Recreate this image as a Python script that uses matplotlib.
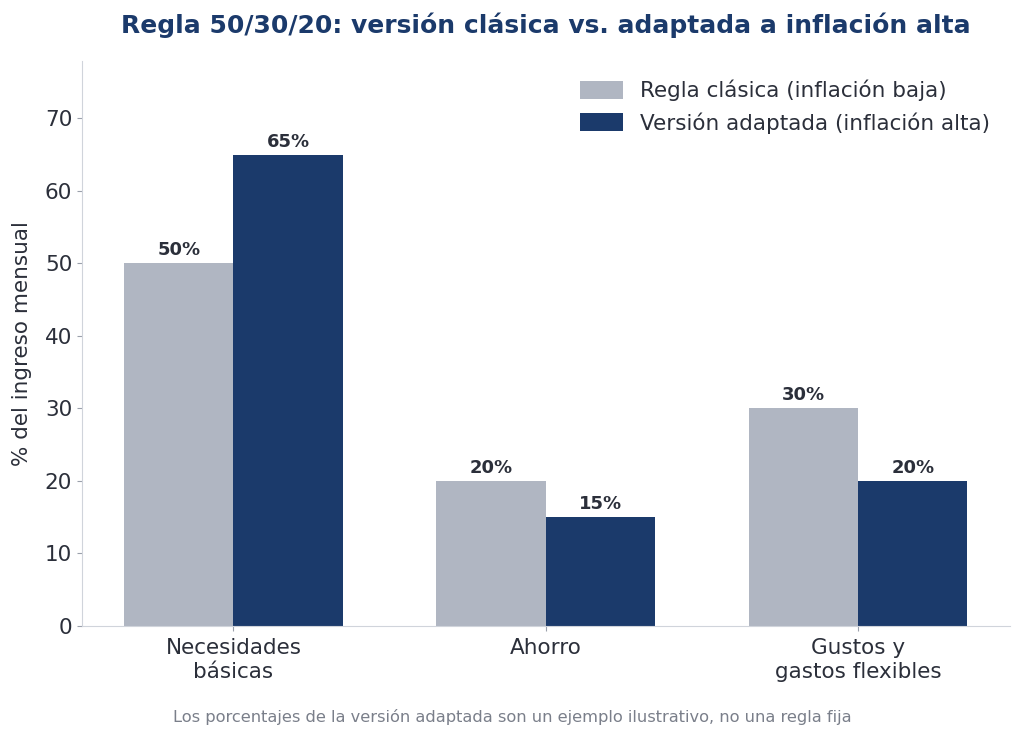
import matplotlib.pyplot as plt
import numpy as np

# datos
categorias = ["Necesidades\nbásicas", "Ahorro", "Gustos y\ngastos flexibles"]
clasica = [50, 20, 30]
adaptada = [65, 15, 20]
etiquetas_series = ["Regla clásica (inflación baja)", "Versión adaptada (inflación alta)"]

gris = "#b0b6c2"
azul = "#1b3a6b"
texto = "#2b2f3a"

fig, ax = plt.subplots(figsize=(10.24, 7.38), dpi=100)
fig.subplots_adjust(left=0.08, right=0.986, top=0.918, bottom=0.152)

x = np.arange(len(categorias))
w = 0.35
b1 = ax.bar(x - w / 2, clasica, w, color=gris, label=etiquetas_series[0])
b2 = ax.bar(x + w / 2, adaptada, w, color=azul, label=etiquetas_series[1])

# etiquetas de valor encima de las barras
for barras in (b1, b2):
    ax.bar_label(barras, labels=[f"{v}%" for v in barras.datavalues], padding=3,
                 fontsize=13, fontweight="bold", color=texto)

ax.set_ylim(0, 78)
ax.set_xticks(x)
ax.set_xticklabels(categorias, fontsize=15.5, color=texto, linespacing=1.25)
ax.tick_params(axis="y", labelsize=15.5, labelcolor=texto, colors="#9aa0ab")
ax.tick_params(axis="x", colors="#9aa0ab", labelcolor=texto, pad=5)
ax.set_ylabel("% del ingreso mensual", fontsize=15.5, color=texto, labelpad=9)
ax.set_title("Regla 50/30/20: versión clásica vs. adaptada a inflación alta",
             fontsize=18, fontweight="bold", color=azul, pad=20)

for s in ("top", "right"):
    ax.spines[s].set_visible(False)
for s in ("left", "bottom"):
    ax.spines[s].set_color("#d0d4db")

leg = ax.legend(fontsize=15.5, frameon=False, loc="upper right",
                handlelength=2.0, handleheight=0.9, labelspacing=0.5)
for t in leg.get_texts():
    t.set_color(texto)

fig.text(0.5, 0.022, "Los porcentajes de la versión adaptada son un ejemplo ilustrativo, no una regla fija",
         ha="center", fontsize=11.7, color="#7a7f8a")

plt.savefig("out.png")
